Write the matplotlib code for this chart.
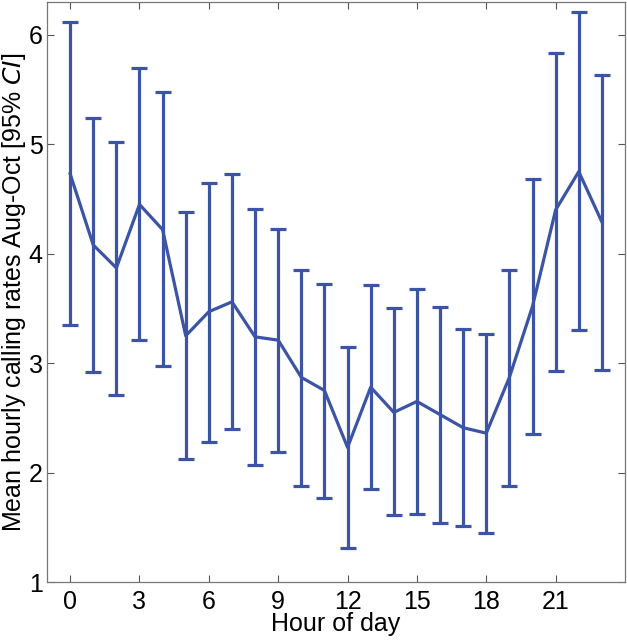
import matplotlib
matplotlib.use("Agg")
import matplotlib.pyplot as plt

plt.rcParams['font.family'] = ['Liberation Sans', 'DejaVu Sans']

# hourly means with 95% CI bounds
hours = list(range(24))
mean_rate = [4.73, 4.08, 3.87, 4.45, 4.22, 3.25, 3.47, 3.56, 3.24, 3.21, 2.87, 2.75,
             2.23, 2.78, 2.55, 2.65, 2.53, 2.41, 2.36, 2.87, 3.52, 4.40, 4.75, 4.29]
ci_low = [3.35, 2.92, 2.71, 3.21, 2.97, 2.12, 2.28, 2.40, 2.07, 2.19, 1.88, 1.77,
          1.31, 1.85, 1.61, 1.62, 1.54, 1.51, 1.45, 1.88, 2.35, 2.93, 3.30, 2.94]
ci_high = [6.12, 5.24, 5.02, 5.70, 5.48, 4.38, 4.65, 4.73, 4.41, 4.23, 3.85, 3.72,
           3.15, 3.71, 3.50, 3.68, 3.51, 3.31, 3.27, 3.85, 4.68, 5.83, 6.21, 5.63]
xticks = [0, 3, 6, 9, 12, 15, 18, 21]
yticks = [1, 2, 3, 4, 5, 6]

err_lo = [m - l for m, l in zip(mean_rate, ci_low)]
err_hi = [h - m for m, h in zip(mean_rate, ci_high)]

fig = plt.figure(figsize=(6.27, 6.40), dpi=100)
ax = fig.add_axes([47/627, 58/640, 578/627, 580/640])
ax.errorbar(hours, mean_rate, yerr=[err_lo, err_hi], color='#3b54a6',
            linewidth=2.3, elinewidth=2.3, capsize=5.5, capthick=2.3)

ax.set_xlim(-1, 24)
ax.set_ylim(1, 6.3)
ax.set_xticks(xticks)
ax.set_yticks(yticks)
ax.tick_params(direction='in', top=True, right=True, labelsize=18,
               color='#555555', length=5)
ax.tick_params(axis='x', pad=6)
ax.tick_params(axis='y', pad=3)
for s in ax.spines.values():
    s.set_color('#777777')
    s.set_linewidth(0.9)

ax.set_xlabel('Hour of day', fontsize=18)
ax.set_ylabel(r'Mean hourly calling rates Aug-Oct [95% $\it{CI}$]', fontsize=18)
ax.xaxis.set_label_coords(0.5, -0.052)
ax.yaxis.set_label_coords(-0.033, 0.5)

fig.savefig('out.png', dpi=100)
